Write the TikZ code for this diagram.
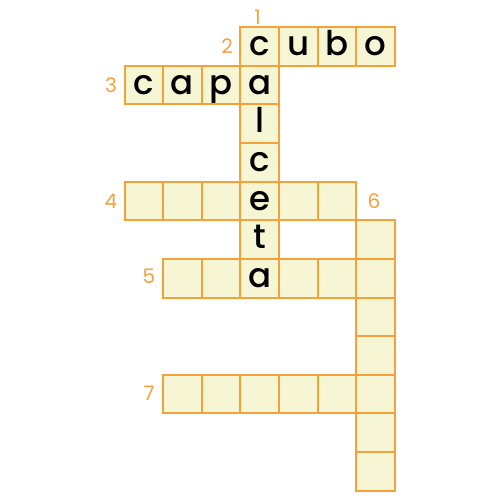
\documentclass[tikz,border=0pt]{standalone}
\usepackage{fontspec}
\setmainfont{Poppins}
\newfontfamily\medfont{Poppins}[UprightFont=*-Medium]
\definecolor{cellfill}{HTML}{F7F6D4}
\definecolor{cellline}{HTML}{F6A03A}
\tikzset{
  cell/.style={draw=cellline, fill=cellfill, line width=2pt, minimum size=38.6pt,
    inner sep=0pt, text height=28.3pt, text depth=10.3pt, font=\medfont\fontsize{34}{34}\selectfont, text=black},
  num/.style={text=cellline, font=\fontsize{20}{20}\selectfont, inner sep=0pt}
}
\begin{document}
\begin{tikzpicture}[x=1pt,y=-1pt]
\useasboundingbox (0,0) rectangle (500,500);
\foreach \c/\r/\l in {
  3/0/c,4/0/u,5/0/b,6/0/o,
  0/1/c,1/1/a,2/1/p,3/1/a,
  3/2/l,3/3/c,
  0/4/{},1/4/{},2/4/{},3/4/e,4/4/{},5/4/{},
  3/5/t,6/5/{},
  1/6/{},2/6/{},3/6/a,4/6/{},5/6/{},6/6/{},
  6/7/{},6/8/{},
  1/9/{},2/9/{},3/9/{},4/9/{},5/9/{},6/9/{},
  6/10/{},6/11/{}}{
  \node[cell] (c\c-\r) at ({124.5+38.6*(\c+0.5)},{27.3+38.6*(\r+0.5)}) {\l};
}
\node[num] (n1) at (257.5,17) {1};
\node[num] (n2) at (227,46) {2};
\node[num] (n3) at (111,85) {3};
\node[num] (n4) at (111,201) {4};
\node[num] (n6) at (374,201) {6};
\node[num] (n5) at (149,276) {5};
\node[num] (n7) at (149,393) {7};
\end{tikzpicture}
\end{document}
